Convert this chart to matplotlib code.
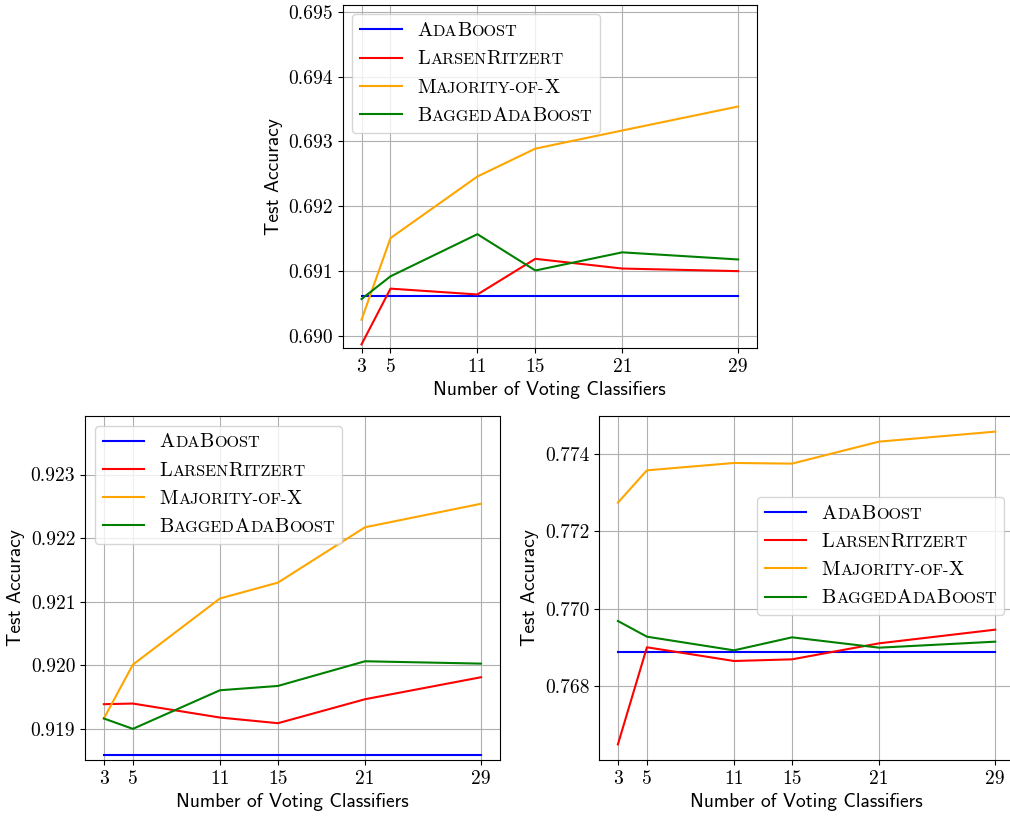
import matplotlib
matplotlib.use("Agg")
import matplotlib.pyplot as plt
from matplotlib.ticker import MultipleLocator, FormatStrFormatter
from matplotlib.offsetbox import AnchoredOffsetbox, VPacker, HPacker, TextArea, DrawingArea
from matplotlib.lines import Line2D

plt.rcParams['font.family'] = ['cmr10', 'DejaVu Sans']
plt.rcParams['axes.formatter.use_mathtext'] = True
plt.rcParams['mathtext.fontset'] = 'cm'

# ---------------- data ----------------
n_voters = [3, 5, 11, 15, 21, 29]
xtick_labels = ['3', '5', '11', '15', '21', '29']
method_names = ['AdaBoost', 'LarsenRitzert', 'Majority-of-X', 'BaggedAdaBoost']
method_colors = ['blue', 'red', 'orange', 'green']

# top panel
top_ada = [0.69062, 0.69062, 0.69062, 0.69062, 0.69062, 0.69062]
top_larsen = [0.68987, 0.69073, 0.69064, 0.69119, 0.69104, 0.69100]
top_major = [0.69025, 0.69151, 0.69246, 0.69289, 0.69317, 0.69354]
top_bagged = [0.69057, 0.69092, 0.69157, 0.69101, 0.69129, 0.69118]

# bottom-left panel
bl_ada = [0.918586, 0.918586, 0.918586, 0.918586, 0.918586, 0.918586]
bl_larsen = [0.919388, 0.919398, 0.919178, 0.919089, 0.919466, 0.919812]
bl_major = [0.919163, 0.920010, 0.921050, 0.921300, 0.922170, 0.922540]
bl_bagged = [0.919163, 0.919000, 0.919607, 0.919675, 0.920063, 0.920026]

# bottom-right panel
br_ada = [0.768887, 0.768887, 0.768887, 0.768887, 0.768887, 0.768887]
br_larsen = [0.766493, 0.769000, 0.768646, 0.768689, 0.769102, 0.769455]
br_major = [0.772734, 0.773569, 0.773759, 0.773742, 0.774310, 0.774568]
br_bagged = [0.769679, 0.769274, 0.768921, 0.769257, 0.768990, 0.769145]

FS = 14          # tick / axis label size
LFS = 14.6       # legend text size
SC_RATIO = 0.80  # small-caps scale
HLEN = 30.0      # legend handle length (pt)


def smallcaps_box(label, fs):
    pieces = []
    for ch in label:
        big = ch.isupper()
        txt = ch if big else ch.upper()
        if pieces and pieces[-1][1] == big:
            pieces[-1][0] += txt
        else:
            pieces.append([txt, big])
    children = [TextArea(t, textprops=dict(size=fs if big else fs * SC_RATIO,
                                           family='cmr10', color='black'))
                for t, big in pieces]
    return HPacker(children=children, align='baseline', pad=0, sep=0)


def add_legend(ax, loc, bbox=None):
    rows = []
    for name, col in zip(method_names, method_colors):
        da = DrawingArea(HLEN, 0.7 * FS, 0, 0)
        da.add_artist(Line2D([0, HLEN], [0.35 * FS, 0.35 * FS], color=col, lw=1.5))
        rows.append(HPacker(children=[da, smallcaps_box(name, LFS)],
                            align='baseline', pad=0, sep=0.8 * FS))
    box = VPacker(children=rows, align='left', pad=0, sep=0.53 * FS)
    kw = {}
    if bbox is not None:
        kw = dict(bbox_to_anchor=bbox, bbox_transform=ax.transAxes)
    ab = AnchoredOffsetbox(loc=loc, child=box, pad=0.4, borderpad=0.5,
                           frameon=True, prop=dict(size=FS), **kw)
    ab.patch.set_boxstyle('round', pad=0, rounding_size=0.2)
    ab.patch.set_facecolor('white')
    ab.patch.set_edgecolor('0.8')
    ab.patch.set_alpha(0.8)
    ab.patch.set_linewidth(1.0)
    ab.set_zorder(5)
    ax.add_artist(ab)


def panel(ax, series, ystep):
    for vals, col in zip(series, method_colors):
        ax.plot(n_voters, vals, color=col, lw=1.5)
    ax.set_xticks(n_voters)
    ax.set_xticklabels(xtick_labels)
    ax.yaxis.set_major_locator(MultipleLocator(ystep))
    ax.yaxis.set_major_formatter(FormatStrFormatter('%.3f'))
    ax.tick_params(labelsize=FS)
    ax.grid(True)
    ax.set_xlabel('Number of Voting Classifiers', fontsize=FS, family='cmss10')
    ax.set_ylabel('Test Accuracy', fontsize=FS, family='cmss10')


fig = plt.figure(figsize=(10.1, 8.16), dpi=100)

ax_top = fig.add_axes([0.3393, 0.5732, 0.4102, 0.4210])
panel(ax_top, [top_ada, top_larsen, top_major, top_bagged], 0.001)
ax_top.set_ylim(0.68981, 0.69511)
add_legend(ax_top, 'upper left')

ax_bl = fig.add_axes([0.08416, 0.0686, 0.4108, 0.4216])
panel(ax_bl, [bl_ada, bl_larsen, bl_major, bl_bagged], 0.001)
ax_bl.set_ylim(0.91851, 0.92392)
add_legend(ax_bl, 'upper left')

ax_br = fig.add_axes([0.5931, 0.0686, 0.4109, 0.4216])
panel(ax_br, [br_ada, br_larsen, br_major, br_bagged], 0.002)
add_legend(ax_br, 'upper right', bbox=(1.0, 0.7927))

fig.savefig('out.png', dpi=100)
